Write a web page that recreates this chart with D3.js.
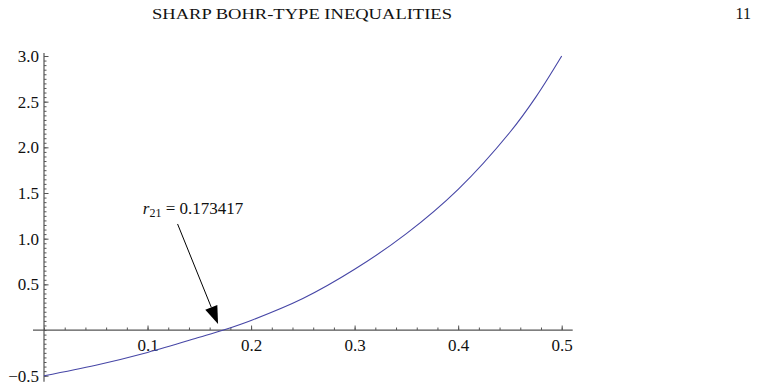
<!DOCTYPE html>
<html>
<head>
<meta charset="utf-8">
<script src="https://cdn.jsdelivr.net/npm/d3@7"></script>
<style>
  body { margin: 0; background: #fff; }
  text { font-family: "Liberation Serif", "Times New Roman", serif; fill: #111; }
</style>
</head>
<body>
<div id="chart"></div>
<script>
// curve
const rValues = [0, 0.05, 0.1, 0.15, 0.173417, 0.2, 0.25, 0.3, 0.35, 0.4, 0.45, 0.475, 0.5];
const fValues = [-0.5, -0.385, -0.245, -0.08, 0, 0.105, 0.345, 0.665, 1.055, 1.54, 2.165, 2.55, 3.0];

const xMajorTicks = [0.1, 0.2, 0.3, 0.4, 0.5];
const yMajorTicks = [-0.5, 0.5, 1.0, 1.5, 2.0, 2.5, 3.0];

const rootValue = 0.173417;
// annotation: label anchor, arrow tail and arrow tip (data units)
const labelPos = [0.0954, 1.275];
const arrowTail = [0.129, 1.161];
const arrowTip = [0.1681, 0.0657];

const pageTitle = "SHARP BOHR-TYPE INEQUALITIES";
const pageNumber = "11";

let width = 758, height = 390;

let svg = d3.select("#chart")
    .append("svg")
    .attr("width", width)
    .attr("height", height);

// Running header
svg.append("text")
    .attr("x", 152)
    .attr("y", 19)
    .attr("font-size", "14.5px")
    .attr("textLength", 300)
    .attr("lengthAdjust", "spacingAndGlyphs")
    .text(pageTitle);

svg.append("text")
    .attr("x", 751)
    .attr("y", 19)
    .attr("text-anchor", "end")
    .attr("font-size", "16px")
    .text(pageNumber);

// Scales
let xScale = d3.scaleLinear()
    .domain([0, 0.5])
    .range([44, 561.7]);

let yScale = d3.scaleLinear()
    .domain([-0.5, 3.0])
    .range([375.7, 56]);

const axisColor = "#555";

// Axis lines
svg.append("line")
    .attr("x1", xScale(0) - 11).attr("x2", xScale(0.5) + 11)
    .attr("y1", yScale(0)).attr("y2", yScale(0))
    .attr("stroke", axisColor).attr("stroke-width", 1.2);

svg.append("line")
    .attr("x1", xScale(0)).attr("x2", xScale(0))
    .attr("y1", yScale(3.0) - 3).attr("y2", yScale(-0.5) + 6)
    .attr("stroke", axisColor).attr("stroke-width", 1.2);

// x axis minor + major ticks (pointing up)
let xMinor = d3.range(0, 0.5001, 0.02);
let gxMinor = svg.append("g")
    .attr("transform", "translate(0," + yScale(0) + ")")
    .call(d3.axisBottom(xScale).tickValues(xMinor).tickSize(-2.5).tickFormat(""));

let gx = svg.append("g")
    .attr("transform", "translate(0," + yScale(0) + ")")
    .call(d3.axisBottom(xScale).tickValues(xMajorTicks).tickSize(-4.5).tickPadding(9)
        .tickFormat(d3.format(".1f")));

// y axis minor + major ticks (pointing right)
let yMinor = d3.range(-0.5, 3.0001, 0.05);
let gyMinor = svg.append("g")
    .attr("transform", "translate(" + xScale(0) + ",0)")
    .call(d3.axisLeft(yScale).tickValues(yMinor).tickSize(-2.5).tickFormat(""));

let gy = svg.append("g")
    .attr("transform", "translate(" + xScale(0) + ",0)")
    .call(d3.axisLeft(yScale).tickValues(yMajorTicks).tickSize(-4.5).tickPadding(5)
        .tickFormat(d3.format(".1f")));

[gxMinor, gx, gyMinor, gy].forEach(g => {
    g.select(".domain").remove();
    g.selectAll(".tick line").attr("stroke", axisColor).attr("stroke-width", 1);
    g.selectAll(".tick text")
        .attr("font-family", "Liberation Serif, serif")
        .attr("font-size", "17px")
        .attr("fill", "#111");
});

// Curve
let xyData = rValues.map((r, i) => ({ x: r, y: fValues[i] }));
let lineGenerator = d3.line()
    .x(d => xScale(d.x))
    .y(d => yScale(d.y))
    .curve(d3.curveCatmullRom.alpha(0.5));

svg.append("path")
    .datum(xyData)
    .attr("fill", "none")
    .attr("stroke", "#4646a6")
    .attr("stroke-width", 1.1)
    .attr("d", lineGenerator);

// Annotation label
let label = svg.append("text")
    .attr("x", xScale(labelPos[0]))
    .attr("y", yScale(labelPos[1]))
    .attr("font-size", "17px");
label.append("tspan").attr("font-style", "italic").text("r");
label.append("tspan").attr("font-size", "12px").attr("dy", 3.5).text("21");
label.append("tspan").attr("dy", -3.5).text(" = " + rootValue.toFixed(6));

// Arrow
let tx = xScale(arrowTail[0]), ty = yScale(arrowTail[1]);
let hx = xScale(arrowTip[0]), hy = yScale(arrowTip[1]);
let ang = Math.atan2(hy - ty, hx - tx);
let headLen = 18, headHalf = 6.5;
let bx = hx - headLen * Math.cos(ang), by = hy - headLen * Math.sin(ang);

svg.append("line")
    .attr("x1", tx).attr("y1", ty)
    .attr("x2", bx).attr("y2", by)
    .attr("stroke", "#000").attr("stroke-width", 1);

svg.append("path")
    .attr("d", d3.line()([
        [hx, hy],
        [bx + headHalf * Math.sin(ang), by - headHalf * Math.cos(ang)],
        [bx - headHalf * Math.sin(ang), by + headHalf * Math.cos(ang)]
    ]) + "Z")
    .attr("fill", "#000");
</script>
</body>
</html>
